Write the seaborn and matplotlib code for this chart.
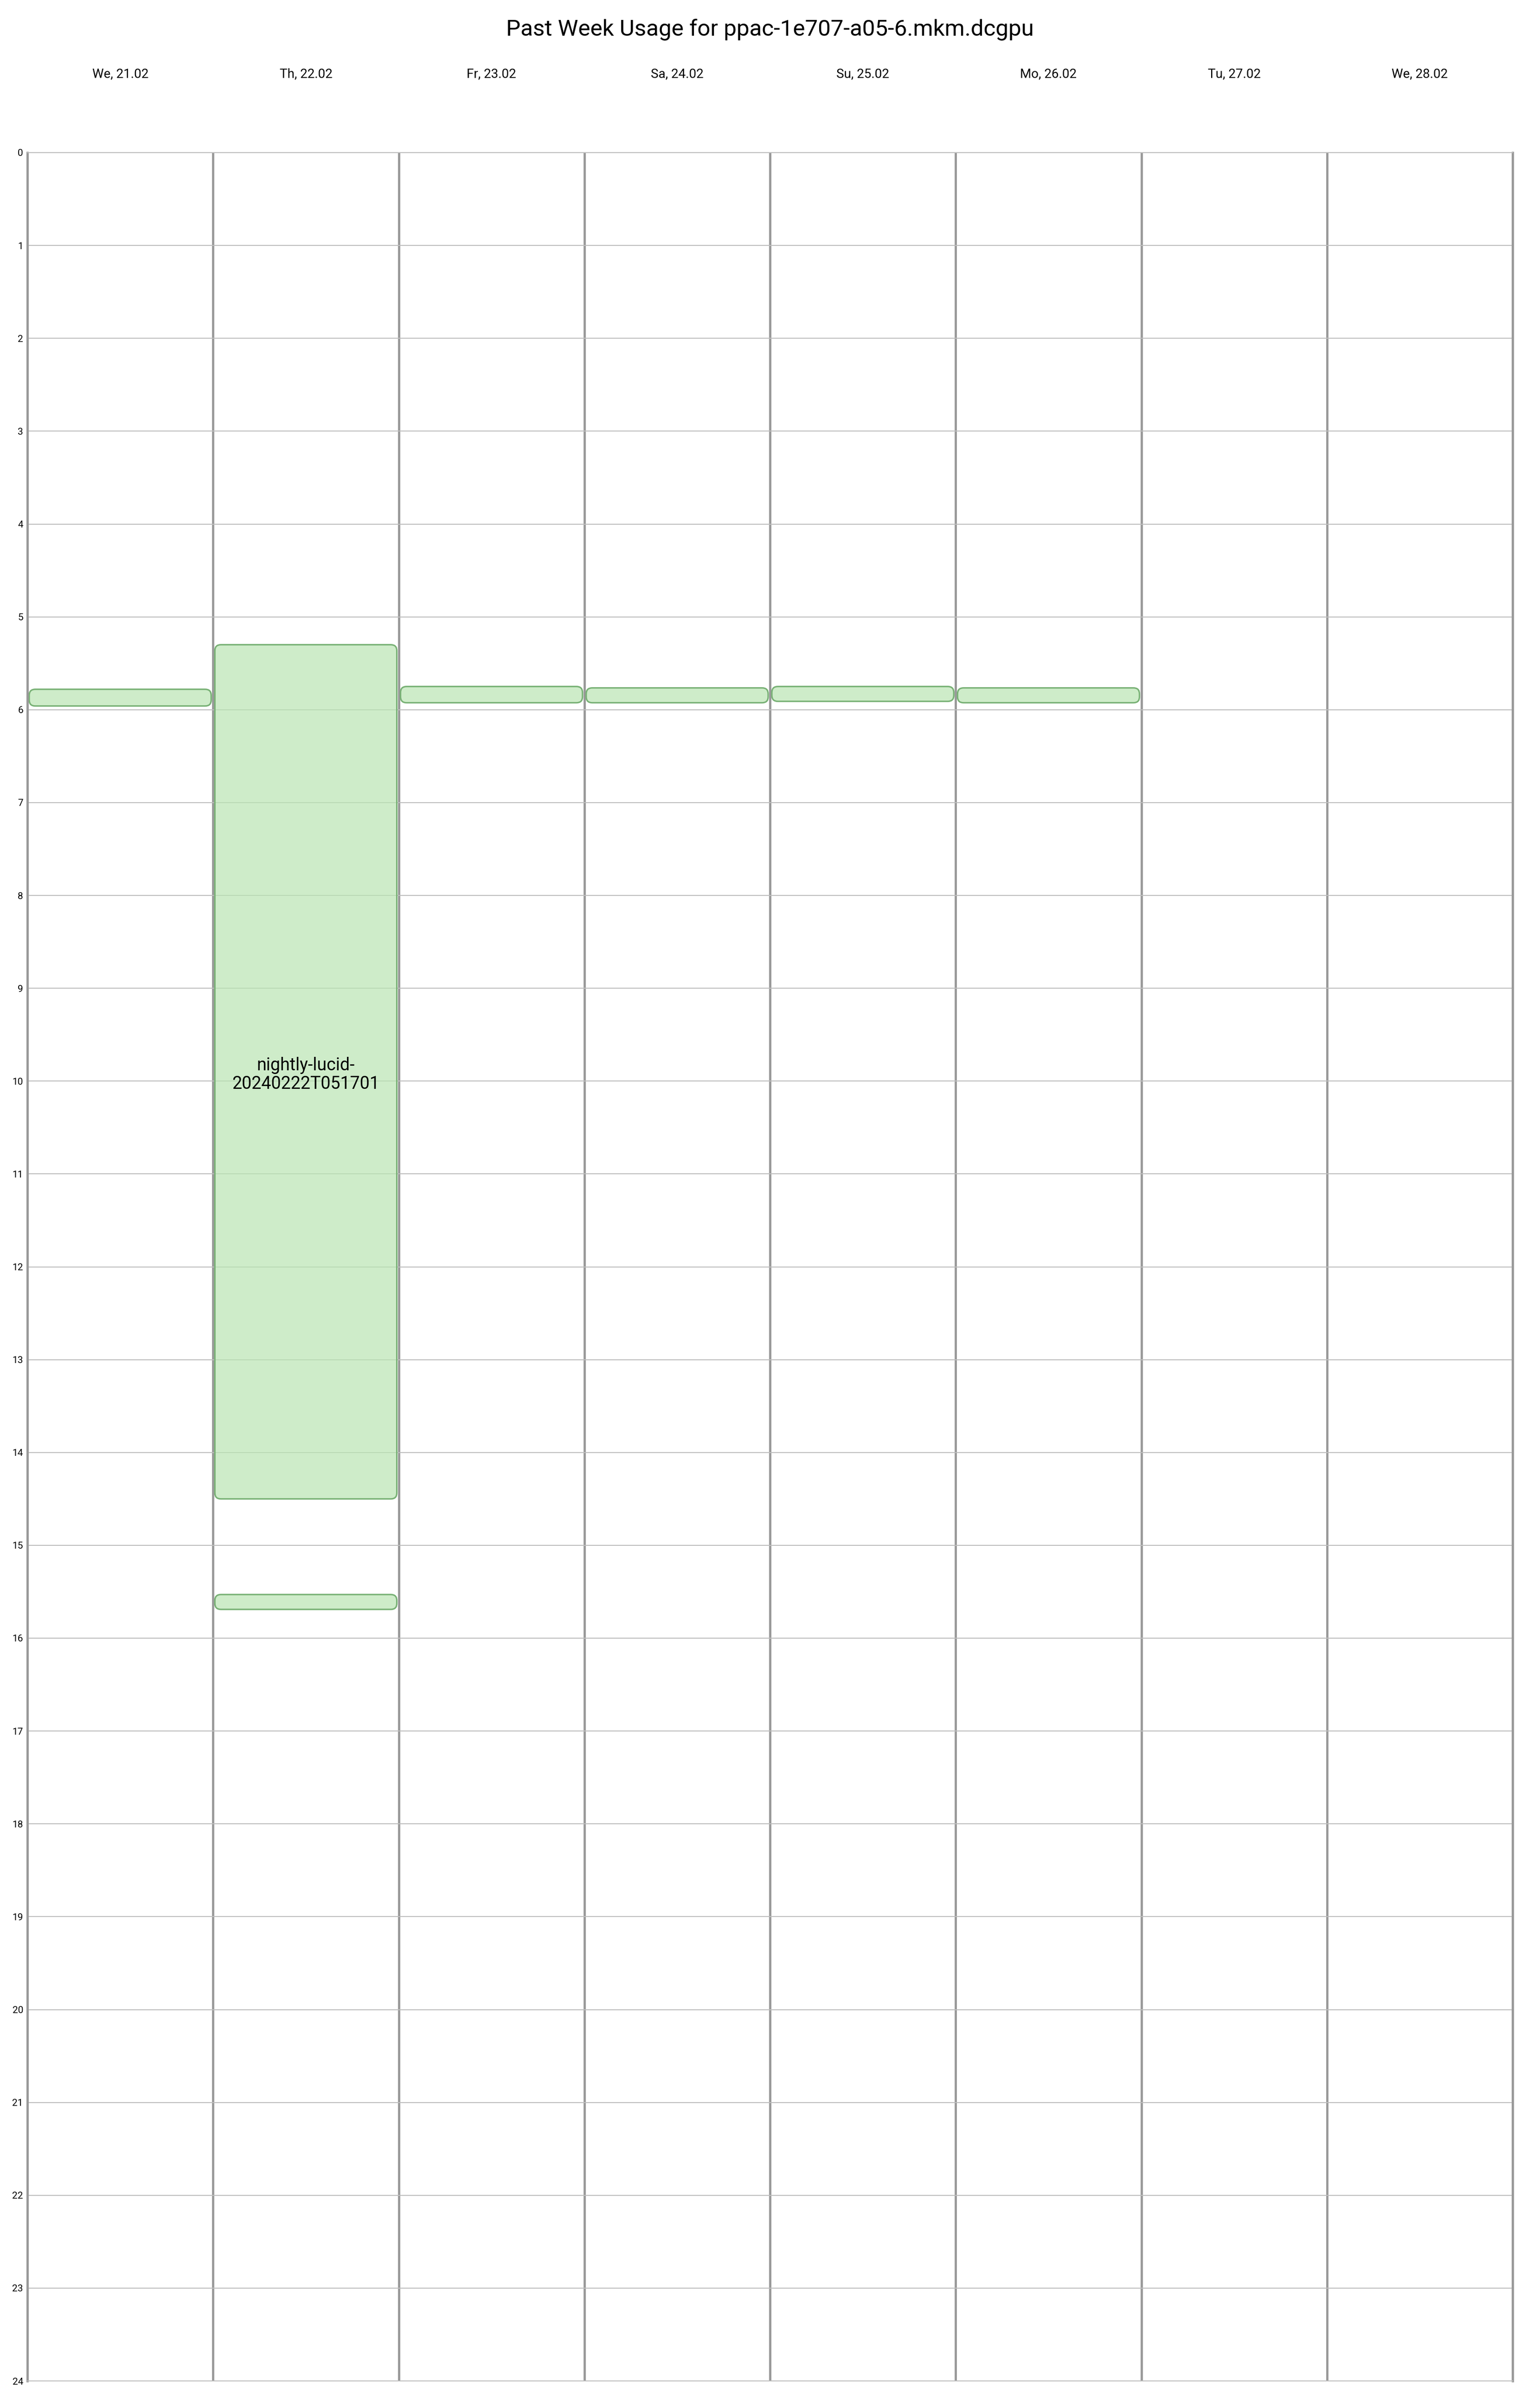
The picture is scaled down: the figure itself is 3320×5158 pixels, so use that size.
import numpy as np
import pandas as pd
import matplotlib
matplotlib.use("Agg")
import matplotlib.pyplot as plt
import seaborn as sns
from matplotlib.patches import FancyBboxPatch

# ---------------- data ----------------
TITLE = "Past Week Usage for ppac-1e707-a05-6.mkm.dcgpu"
days = ["We, 21.02", "Th, 22.02", "Fr, 23.02", "Sa, 24.02",
        "Su, 25.02", "Mo, 26.02", "Tu, 27.02", "We, 28.02"]
hours = list(range(0, 25))

job_day = ["We, 21.02", "Th, 22.02", "Th, 22.02", "Fr, 23.02",
           "Sa, 24.02", "Su, 25.02", "Mo, 26.02"]
job_start = [5.78, 5.30, 15.53, 5.75, 5.765, 5.75, 5.765]
job_end = [5.96, 14.50, 15.69, 5.925, 5.925, 5.91, 5.925]
job_label = ["", "nightly-lucid-\n20240222T051701", "", "", "", "", ""]

# ---------------- style ----------------
sns.set_theme(style="white")
plt.rcParams["font.family"] = ["Roboto", "DejaVu Sans"]
plt.rcParams["text.color"] = "black"
plt.rcParams["xtick.color"] = "black"
plt.rcParams["ytick.color"] = "black"

W, H, DPI = 3320, 5158, 100
fig = plt.figure(figsize=(W / DPI, H / DPI), dpi=DPI)
fig.patch.set_facecolor("white")
AX_L, AX_R, AX_T, AX_B = 59, 3261, 329, 5132
ax = fig.add_axes([AX_L / W, 1 - AX_B / H, (AX_R - AX_L) / W, (AX_B - AX_T) / H])

df = pd.DataFrame({"day": job_day, "start": job_start, "end": job_end, "label": job_label})
df["dur"] = df["end"] - df["start"]

FACE = (186 / 255, 229 / 255, 179 / 255, 0.7)
EDGE = "#78b175"

bar_patches = []
for _, row in df.iterrows():
    n_before = len(ax.patches)
    sns.barplot(x=[row["day"]], y=[row["dur"]], order=days, bottom=row["start"],
                width=0.98, color="#bae5b3", saturation=1, errorbar=None, ax=ax)
    bar_patches.append(ax.patches[n_before])

ax.set_xlim(-0.5, len(days) - 0.5)
ax.set_ylim(24, 0)

# replace rectangles with rounded boxes of the same geometry
px_x = (AX_R - AX_L) / len(days)
px_y = (AX_B - AX_T) / 24.0
r_px = 13
for p, lab in zip(bar_patches, df["label"]):
    x0, y0, w, h = p.get_x(), p.get_y(), p.get_width(), p.get_height()
    p.remove()
    fb = FancyBboxPatch((x0, y0), w, h,
                        boxstyle=f"round,pad=0,rounding_size={r_px / px_x}",
                        mutation_aspect=px_x / px_y,
                        facecolor=FACE, edgecolor=EDGE, linewidth=2.3, zorder=2)
    ax.add_patch(fb)
    if lab:
        ax.annotate(lab, (x0 + w / 2, y0 + h / 2), xytext=(0, -4.5),
                    textcoords="offset points", ha="center", va="center",
                    fontsize=27, linespacing=1.08, color="black", zorder=3)

# axes / grid
ax.set_xlabel("")
ax.set_ylabel("")
ax.set_yticks(hours)
ax.set_yticklabels([str(h) for h in hours], fontsize=15)
ax.tick_params(axis="y", length=0, pad=6.5)

ax.xaxis.tick_top()
ax.set_xticks(range(len(days)))
ax.set_xticklabels(days, fontsize=20)
ax.set_xticks(np.arange(-0.5, len(days), 1.0), minor=True)
ax.tick_params(axis="x", which="both", length=0, pad=112)

ax.set_axisbelow(True)
ax.yaxis.grid(True, color="#bdbdbd", linewidth=1.45)
ax.xaxis.grid(False, which="major")
ax.xaxis.grid(True, which="minor", color="#999999", linewidth=3.5)

for side in ["left", "right"]:
    ax.spines[side].set_color("#999999")
    ax.spines[side].set_linewidth(3.5)
for side in ["top", "bottom"]:
    ax.spines[side].set_color("#bdbdbd")
    ax.spines[side].set_linewidth(1.45)

fig.text(0.5, 1 - 77 / H, TITLE, ha="center", va="baseline", fontsize=35.5, color="black")

fig.savefig("out.png", dpi=DPI, facecolor="white")
